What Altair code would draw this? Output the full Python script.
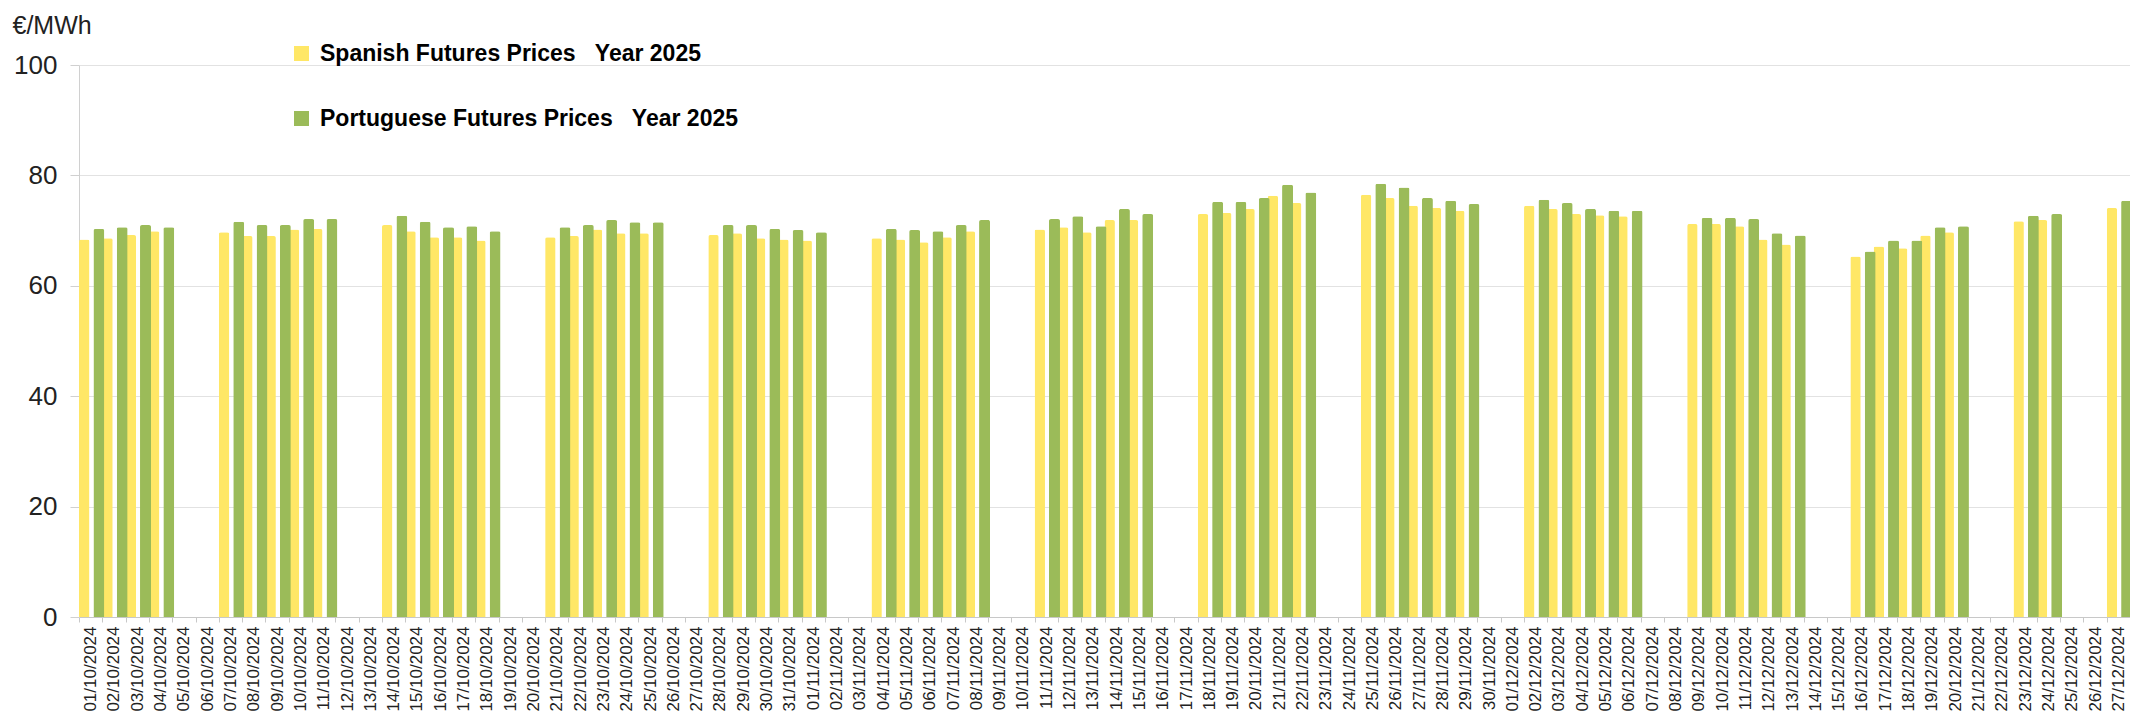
import altair as alt
import pandas as pd

# Category axis: every calendar day shown on the chart
categories = [d.strftime("%d/%m/%Y") for d in pd.date_range("2024-10-01", "2024-12-27", freq="D")]

# Trading days with quotes
trade_dates = [
    "01/10/2024", "02/10/2024", "03/10/2024", "04/10/2024",
    "07/10/2024", "08/10/2024", "09/10/2024", "10/10/2024", "11/10/2024",
    "14/10/2024", "15/10/2024", "16/10/2024", "17/10/2024", "18/10/2024",
    "21/10/2024", "22/10/2024", "23/10/2024", "24/10/2024", "25/10/2024",
    "28/10/2024", "29/10/2024", "30/10/2024", "31/10/2024", "01/11/2024",
    "04/11/2024", "05/11/2024", "06/11/2024", "07/11/2024", "08/11/2024",
    "11/11/2024", "12/11/2024", "13/11/2024", "14/11/2024", "15/11/2024",
    "18/11/2024", "19/11/2024", "20/11/2024", "21/11/2024", "22/11/2024",
    "25/11/2024", "26/11/2024", "27/11/2024", "28/11/2024", "29/11/2024",
    "02/12/2024", "03/12/2024", "04/12/2024", "05/12/2024", "06/12/2024",
    "09/12/2024", "10/12/2024", "11/12/2024", "12/12/2024", "13/12/2024",
    "16/12/2024", "17/12/2024", "18/12/2024", "19/12/2024", "20/12/2024",
    "23/12/2024", "24/12/2024", "27/12/2024",
]

spanish = [
    68.4, 68.6, 69.2, 69.9,
    69.7, 69.0, 69.0, 70.2, 70.3,
    71.0, 69.9, 68.8, 68.8, 68.2,
    68.8, 69.0, 70.2, 69.5, 69.5,
    69.2, 69.5, 68.6, 68.4, 68.2,
    68.6, 68.4, 67.9, 68.8, 69.9,
    70.2, 70.6, 69.7, 71.9, 71.9,
    73.0, 73.2, 73.9, 76.3, 75.0,
    76.5, 75.9, 74.5, 74.1, 73.6,
    74.5, 73.9, 73.0, 72.8, 72.6,
    71.2, 71.2, 70.8, 68.4, 67.5,
    65.3, 67.1, 66.8, 69.1, 69.7,
    71.7, 71.9, 74.1,
]

portuguese = [
    70.3, 70.6, 71.0, 70.6,
    71.6, 71.0, 71.0, 72.1, 72.1,
    72.7, 71.6, 70.6, 70.8, 69.9,
    70.6, 71.0, 71.9, 71.5, 71.5,
    71.0, 71.0, 70.3, 70.1, 69.7,
    70.3, 70.1, 69.9, 71.0, 71.9,
    72.1, 72.6, 70.8, 73.9, 73.0,
    75.2, 75.2, 75.9, 78.3, 76.9,
    78.5, 77.8, 75.9, 75.4, 74.8,
    75.6, 75.0, 73.9, 73.6, 73.6,
    72.3, 72.3, 72.1, 69.5, 69.1,
    66.2, 68.2, 68.2, 70.6, 70.8,
    72.7, 73.0, 75.4,
]

y_ticks = [0, 20, 40, 60, 80, 100]

SP = "Spanish Futures Prices\u00a0\u00a0\u00a0Year 2025"
PT = "Portuguese Futures Prices\u00a0\u00a0\u00a0Year 2025"
YELLOW = "#FFE766"
GREEN = "#9BBB59"
FONT = "Liberation Sans"

n = len(trade_dates)
df = pd.DataFrame({
    "date": trade_dates + trade_dates,
    "price": spanish + portuguese,
    "series": [SP] * n + [PT] * n,
})

x = alt.X(
    "date:N",
    sort=categories,
    scale=alt.Scale(domain=categories, paddingInner=0, paddingOuter=0),
    axis=alt.Axis(
        title=None, labelAngle=-90, labelAlign="right", labelBaseline="middle",
        labelFontSize=17, labelFont=FONT, labelColor="#222222",
        labelPadding=4, tickSize=5, tickBand="extent", tickColor="#C8C8C8",
        domainColor="#C8C8C8", grid=False, labelOverlap=False,
    ),
)
y = alt.Y(
    "price:Q",
    scale=alt.Scale(domain=[0, 100], nice=False),
    axis=alt.Axis(
        values=y_ticks, title="€/MWh", titleAngle=0, titleAlign="left",
        titleBaseline="alphabetic", titleX=-67, titleY=-32, titleFontSize=25,
        titleFontWeight="normal", titleFont=FONT, titleColor="#222222",
        labelFontSize=26, labelFont=FONT, labelColor="#222222", labelPadding=13,
        tickSize=9, tickColor="#D0D0D0", domainColor="#D0D0D0",
        gridColor="#E2E2E2", gridWidth=1,
    ),
)
color = alt.Color(
    "series:N",
    scale=alt.Scale(domain=[SP, PT], range=[YELLOW, GREEN]),
    legend=alt.Legend(
        title=None, orient="none", legendX=211, legendY=-23, direction="vertical",
        symbolType="square", symbolSize=225, symbolStrokeWidth=0, symbolOpacity=1,
        labelFontSize=23, labelFontWeight="bold", labelFont=FONT, labelColor="#000000",
        rowPadding=41, labelOffset=7, labelLimit=0, padding=0,
    ),
)

base = alt.Chart(df).encode(x=x, y=y, color=color)

bars_sp = base.transform_filter(alt.datum.series == SP).mark_bar(
    size=10.4, xOffset=-6.45, cornerRadiusTopLeft=2, cornerRadiusTopRight=2
)
bars_pt = base.transform_filter(alt.datum.series == PT).mark_bar(
    size=11, xOffset=8.25, cornerRadiusTopLeft=2, cornerRadiusTopRight=2
)

chart = alt.layer(bars_sp, bars_pt).properties(
    width=2051,
    height=552,
    autosize=alt.AutoSizeParams(type="none"),
    padding={"left": 71, "top": 57, "right": 0, "bottom": 94},
    background="white",
).configure_view(stroke=None)

chart.save("out.html", embed_options={"renderer": "svg", "actions": False})
